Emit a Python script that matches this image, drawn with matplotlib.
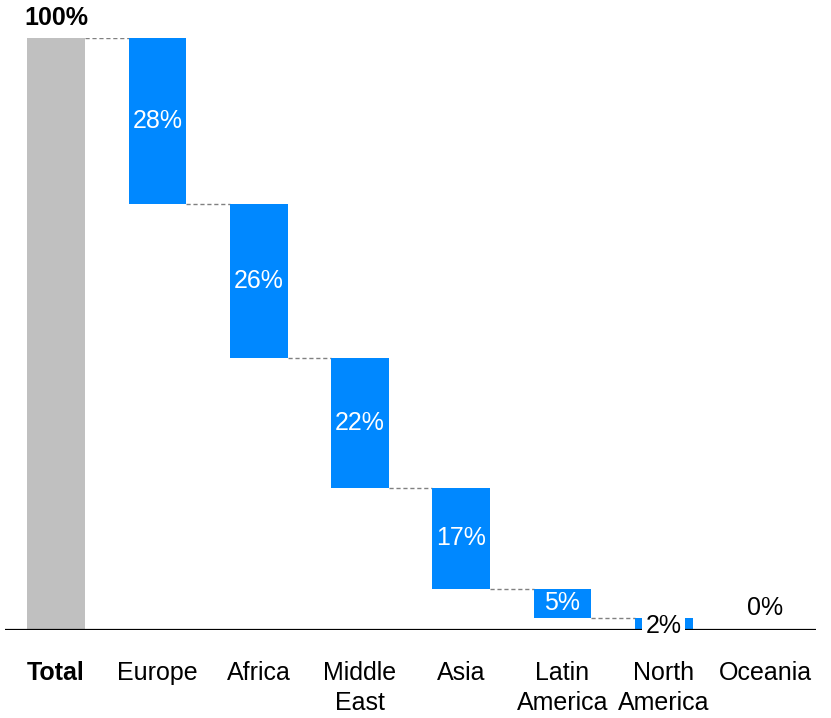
import numpy as np
import matplotlib.pyplot as plt

plt.rcParams['font.family'] = ['Liberation Sans', 'DejaVu Sans']

categories = ['Total', 'Europe', 'Africa', 'Middle\nEast', 'Asia', 'Latin\nAmerica', 'North\nAmerica', 'Oceania']
total = 100
shares = [28, 26, 22, 17, 5, 2, 0]

blue = '#0088ff'
grey = '#c0c0c0'
fs = 18

fig = plt.figure(figsize=(8.31, 7.18), dpi=100)
ax = fig.add_axes([0.0066, 0.1226, 0.975, 0.8245])

x = np.arange(len(categories))
w = 0.57

# total bar
ax.bar(x[0], total, width=w, color=grey, zorder=2)
ax.text(x[0], total + 1.3, '100%', ha='center', va='bottom', fontsize=fs,
        fontweight='bold', clip_on=False)

# falling bars
tops = total - np.concatenate([[0], np.cumsum(shares)[:-1]])
bottoms = tops - np.array(shares)
ax.bar(x[1:], shares, bottom=bottoms, width=w, color=blue, zorder=2)

# connectors
levels = [total] + list(bottoms)
for i in range(len(categories) - 1):
    if levels[i] <= 0:
        continue
    ax.plot([x[i] + w / 2, x[i + 1] - w / 2], [levels[i], levels[i]],
            ls=(0, (3, 2)), color='#808080', lw=1, zorder=1)

# value labels
for i, s in enumerate(shares):
    xi = x[i + 1]
    if s >= 5:
        ax.text(xi, bottoms[i] + s / 2, f'{s}%', ha='center', va='center',
                color='white', fontsize=fs, zorder=3)
    elif s > 0:
        ax.text(xi, bottoms[i] + s / 2 - 0.4, f'{s}%', ha='center', va='center',
                color='black', fontsize=fs, zorder=5,
                bbox=dict(facecolor='white', edgecolor='none', pad=2.5))
    else:
        ax.text(xi, 3.7, f'{s}%', ha='center', va='center',
                color='black', fontsize=fs, zorder=3)

ax.axhline(0, color='black', lw=1.6, zorder=4)

ax.set_xlim(-0.5, len(categories) - 0.5)
ax.set_ylim(0, 100)
ax.set_xticks(x)
ax.set_xticklabels(categories, fontsize=fs, linespacing=1.35)
ax.get_xticklabels()[0].set_fontweight('bold')
ax.tick_params(axis='x', length=0, pad=22)
ax.set_yticks([])
for sp in ax.spines.values():
    sp.set_visible(False)

fig.savefig('out.png', dpi=100)
